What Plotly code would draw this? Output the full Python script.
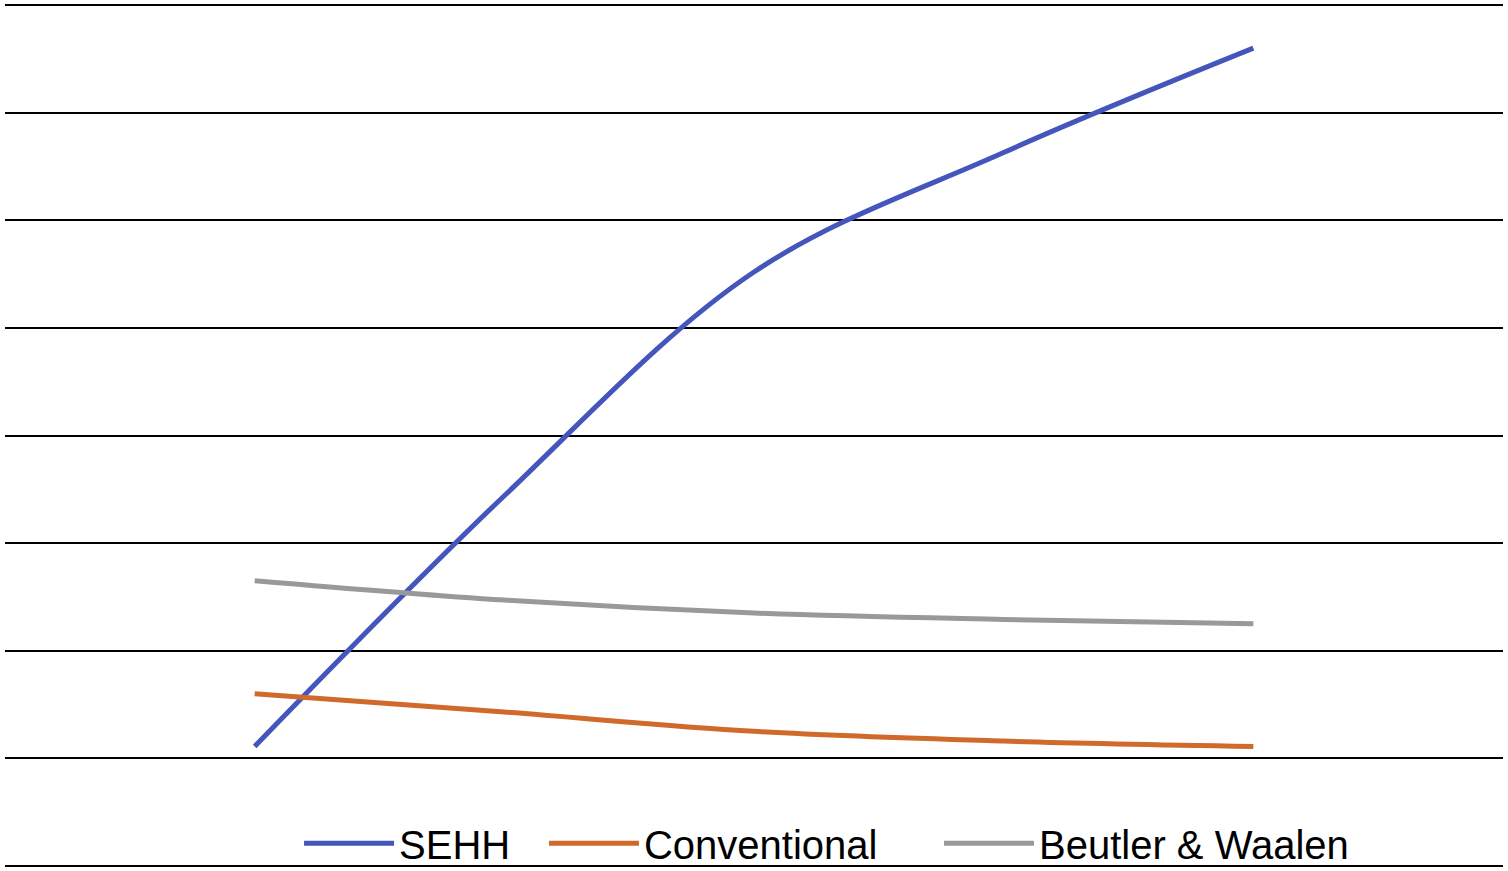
import plotly.graph_objects as go

categories = ["1", "2", "3", "4", "5"]
sehh = [0.11, 2.44, 4.52, 5.63, 6.60]
conventional = [0.60, 0.43, 0.25, 0.16, 0.11]
beutler = [1.65, 1.47, 1.35, 1.29, 1.25]

series = [
    ("SEHH", sehh, "#4455bb", "legend", 0.1963),
    ("Conventional", conventional, "#d06a2a", "legend2", 0.3598),
    ("Beutler & Waalen", beutler, "#999999", "legend3", 0.6235),
]

fig = go.Figure()
legend_layouts = {}
for name, vals, color, leg, lx in series:
    fig.add_trace(go.Scatter(
        x=list(range(len(categories))), y=vals, name=name, mode="lines",
        line=dict(color=color, width=5, shape="spline", smoothing=1.0),
        legend=leg,
    ))
    legend_layouts[leg] = dict(
        orientation="h", x=lx, xanchor="left",
        y=0.0285, yanchor="middle",
        font=dict(size=40, color="black"), itemwidth=90,
        bgcolor="rgba(0,0,0,0)", borderwidth=0,
    )

fig.update_layout(
    width=1508, height=871,
    margin=dict(l=5, r=5, t=3, b=3, autoexpand=False),
    paper_bgcolor="white", plot_bgcolor="white",
    font=dict(family="Liberation Sans, Arial, sans-serif", color="black"),
    showlegend=True,
    xaxis=dict(range=[-1, 5], showgrid=False, zeroline=False,
               showticklabels=False, ticks="", showline=False),
    yaxis=dict(range=[-1.02, 7.02], tickvals=list(range(-1, 8)),
               showgrid=True, gridcolor="black", gridwidth=2,
               zeroline=False, showticklabels=False, ticks="", showline=False),
    **legend_layouts,
)

fig.write_html(
    "out.html",
    config={"displayModeBar": False},
    post_script="document.body.style.margin='0';document.body.style.overflow='hidden';",
)
